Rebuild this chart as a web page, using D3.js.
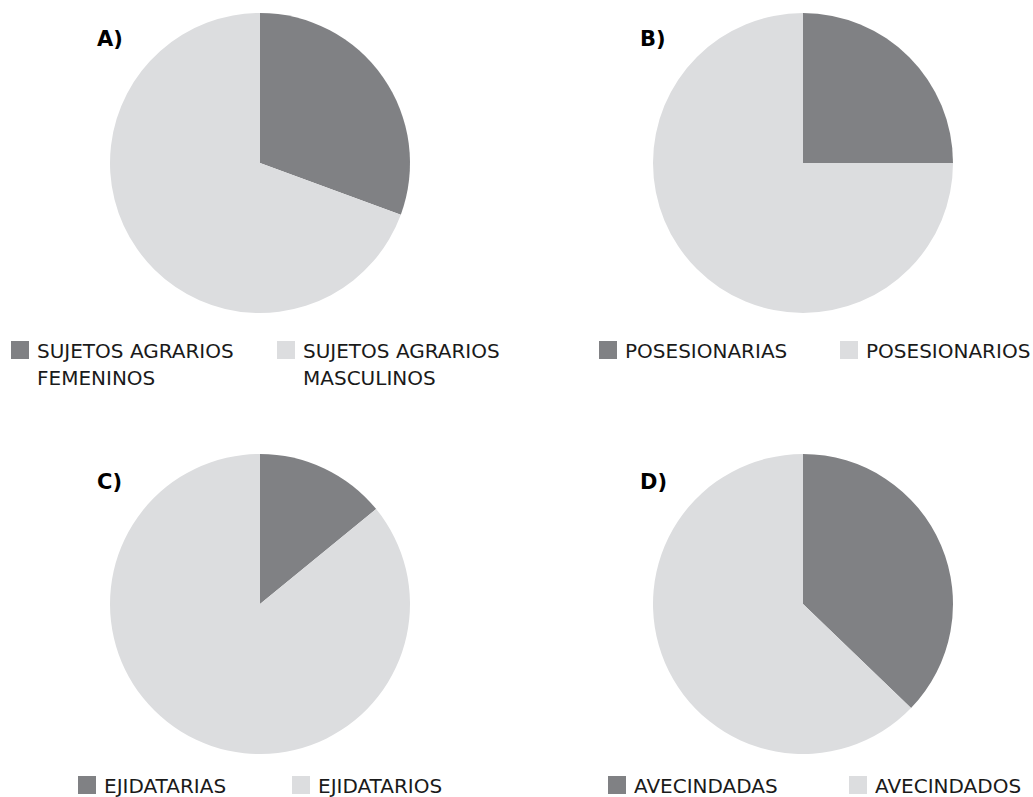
<!DOCTYPE html>
<html><head><meta charset="utf-8">
<script src="https://cdn.jsdelivr.net/npm/d3@7"></script>
<style>body{margin:0;background:#fff}</style>
</head><body>
<svg id="c" width="1033" height="797"></svg>
<script>
const panels = ["A)", "B)", "C)", "D)"];
const femaleLabels = [["SUJETOS AGRARIOS","FEMENINOS"],["POSESIONARIAS"],["EJIDATARIAS"],["AVECINDADAS"]];
const maleLabels = [["SUJETOS AGRARIOS","MASCULINOS"],["POSESIONARIOS"],["EJIDATARIOS"],["AVECINDADOS"]];
const femaleValues = [30.6, 25.0, 14.1, 37.2];
const maleValues = [69.4, 75.0, 85.9, 62.8];
const colors = ["#808184", "#dcdddf"];

const layout = [
  {cx:260, cy:163, tx:97, ty:46, leg:[{x:11,y:341},{x:277,y:341}]},
  {cx:803, cy:163, tx:640, ty:46, leg:[{x:599,y:341},{x:840,y:341}]},
  {cx:260, cy:604, tx:97, ty:489, leg:[{x:78,y:776},{x:292,y:776}]},
  {cx:803, cy:604, tx:640, ty:489, leg:[{x:608,y:776},{x:849,y:776}]}
];
const r = 150;
const svg = d3.select("#c");
const pie = d3.pie().sort(null).value(d => d);
const arc = d3.arc().innerRadius(0).outerRadius(r);
const font = "'DejaVu Sans', sans-serif";

panels.forEach((p, i) => {
  const L = layout[i];
  const g = svg.append("g").attr("transform", `translate(${L.cx},${L.cy})`);
  g.selectAll("path").data(pie([femaleValues[i], maleValues[i]])).join("path")
    .attr("d", arc).attr("fill", (d, j) => colors[j]);
  svg.append("text").attr("x", L.tx).attr("y", L.ty).text(p)
    .attr("font-family", font).attr("font-weight", "bold").attr("font-size", 21).attr("fill", "#000");
  [femaleLabels[i], maleLabels[i]].forEach((lab, j) => {
    const pos = L.leg[j];
    svg.append("rect").attr("x", pos.x).attr("y", pos.y).attr("width", 18).attr("height", 18).attr("fill", colors[j]);
    const t = svg.append("text").attr("x", pos.x + 26).attr("y", pos.y + 17)
      .attr("font-family", font).attr("font-size", 20).attr("fill", "#1a1a1a");
    lab.forEach((line, k) => t.append("tspan").attr("x", pos.x + 26).attr("dy", k === 0 ? 0 : 27).text(line));
  });
});
</script>
</body></html>
